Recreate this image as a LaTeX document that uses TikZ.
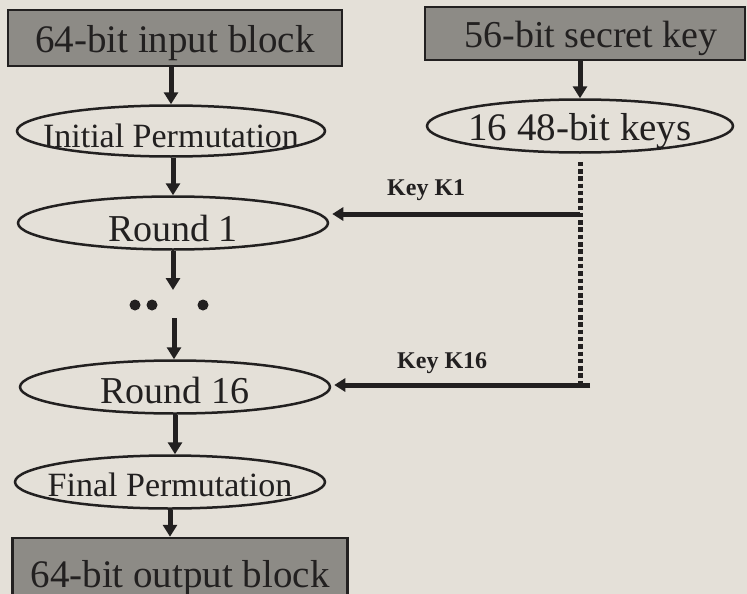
\documentclass[tikz,border=0pt]{standalone}
\usepackage{fontspec}
\setmainfont{Liberation Serif}
\usetikzlibrary{shapes.geometric,arrows.meta}
\definecolor{paper}{HTML}{E4E0D8}
\definecolor{ink}{HTML}{222020}
\definecolor{boxgray}{HTML}{8D8B86}
% zero-width box so the text never widens its shape
\newcommand\zerowidth[1]{\makebox[0pt]{#1}}

\begin{document}
\begin{tikzpicture}[x=1pt,y=-1pt,
  blockbox/.style={rectangle, draw=ink, line width=2.5pt, fill=boxgray,
    inner sep=0pt, text=ink, font=\fontsize{39}{39}\selectfont, text depth=0pt},
  stage/.style={ellipse, draw=ink, line width=2.5pt, fill=paper, inner sep=0pt,
    text=ink, minimum width=310pt, minimum height=53pt, text depth=0pt},
  flow/.style={draw=ink, line width=5pt, -{Triangle[width=14pt,length=12pt]}},
  keyflow/.style={draw=ink, line width=5pt, -{Triangle[width=13pt,length=11pt]}, shorten >=3pt},
  keydots/.style={draw=ink, line width=5pt, dash pattern=on 4.5pt off 2.8pt},
  keylabel/.style={inner sep=0pt, text=ink, font=\bfseries\fontsize{24}{24}\selectfont},
  dotmark/.style={circle, fill=ink, inner sep=0pt, minimum size=11pt}
]
\useasboundingbox (0,0) rectangle (747,594);
\fill[paper] (0,0) rectangle (747,594);
\clip (0,0) rectangle (747,594);

% data path
\node[blockbox, minimum width=334pt, minimum height=56pt, text height=30pt]
  (inp) at (175,38) {\zerowidth{64-bit input block}};
\node[stage, minimum width=308pt, minimum height=51pt, text height=32pt,
  font=\fontsize{34}{34}\selectfont] (ip) at (171,131) {\zerowidth{Initial Permutation}};
\node[stage, text height=36pt, font=\fontsize{38}{38}\selectfont]
  (r1) at (173,223) {\zerowidth{Round 1}};
\node[stage, text height=32pt, font=\fontsize{38}{38}\selectfont]
  (r16) at (175,387) {\zerowidth{Round 16}};
\node[stage, text height=28pt, font=\fontsize{34}{34}\selectfont]
  (fp) at (170,482) {\zerowidth{Final Permutation}};
\node[blockbox, minimum width=335pt, minimum height=68pt, text height=30pt]
  (out) at (180,572) {\zerowidth{64-bit output block}};

% key path
\node[blockbox, minimum width=320pt, minimum height=53pt, text height=29pt,
  font=\fontsize{38}{38}\selectfont] (sk) at (585,33.5) {\zerowidth{\hspace{12pt}56-bit secret key}};
\node[stage, minimum width=306pt, text height=28pt, font=\fontsize{39}{39}\selectfont]
  (keys) at (580,126) {\zerowidth{16 48-bit keys}};

% elided rounds
\node[dotmark] (d1) at (135,305) {};
\node[dotmark] (d2) at (152,305) {};
\node[dotmark] (d3) at (203,305) {};
\coordinate (g1) at (173,290);
\coordinate (g2) at (174,318);

% vertical flow
\draw[flow] (ip.north |- inp.south) -- (ip.north);
\draw[flow] (r1.north |- ip.south) -- (r1.north);
\draw[flow] (r1.south) -- (g1);
\draw[flow] (g2) -- (g2 |- r16.north);
\draw[flow] (r16.south) -- (r16.south |- fp.north);
\draw[flow] (fp.south) -- (fp.south |- out.north);
\draw[flow] (keys.north |- sk.south) -- (keys.north);

% round keys
\coordinate (k1) at (580,214);
\coordinate (k16) at (590,385);
\draw[keydots, shorten <=8pt] (keys.south) -- (keys.south |- k16);
\draw[keyflow] (k1) -- (k1 -| r1.east);
\draw[keyflow] (k16) -- (k16 -| r16.east);
\node[keylabel, anchor=base west] (lk1) at (387,195) {Key K1};
\node[keylabel, anchor=base west] (lk16) at (397,368) {Key K16};
\end{tikzpicture}
\end{document}
